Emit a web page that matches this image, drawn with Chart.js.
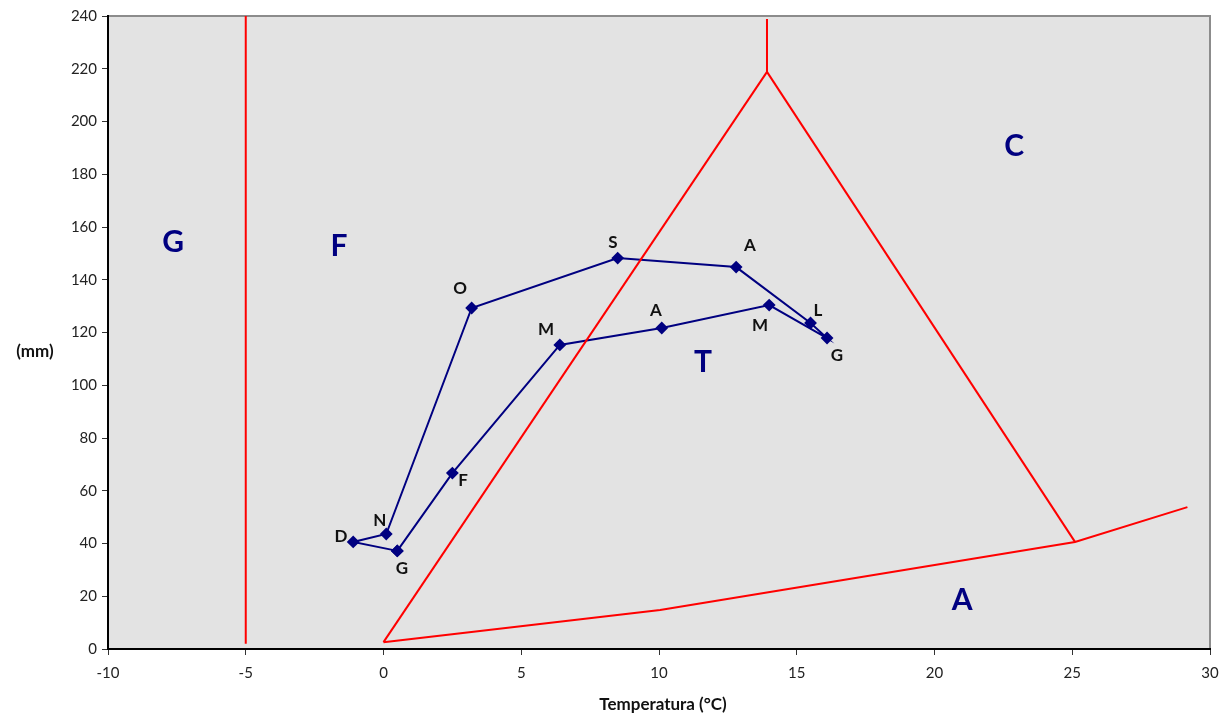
<!DOCTYPE html>
<html>
<head>
<meta charset="utf-8">
<script src="https://cdn.jsdelivr.net/npm/chart.js@4"></script>
<style>
  html, body { margin: 0; padding: 0; background: #fff; }
  #wrap { width: 1224px; height: 717px; }
</style>
</head>
<body>
<div id="wrap"><canvas id="climograph" width="1224" height="717"></canvas></div>
<script>
// Monthly climate values (temperature °C, precipitation mm), Jan..Dec
const months = ['G', 'F', 'M', 'A', 'M', 'G', 'L', 'A', 'S', 'O', 'N', 'D'];
const temps = [0.5, 2.5, 6.4, 10.1, 14.0, 16.1, 15.5, 12.8, 8.5, 3.2, 0.1, -1.1];
const precip = [37.2, 66.7, 115.3, 121.7, 130.4, 117.9, 123.6, 144.8, 148.2, 129.3, 43.6, 40.6];

// Label positions for the month letters (in data units)
const monthLabelX = [0.67, 2.89, 5.9, 9.89, 13.67, 16.46, 15.77, 13.3, 8.33, 2.78, -0.13, -1.54];
const monthLabelY = [30.7, 63.7, 121.3, 128.5, 122.5, 111.1, 128.2, 152.8, 154.3, 136.5, 48.9, 42.8];

// Red boundary lines of the climate zones
const lineGlacial = [{x: -5, y: 2}, {x: -5, y: 240}];
const lineTop = [{x: 13.92, y: 238.9}, {x: 13.92, y: 218.8}];
const lineLeft = [{x: 0, y: 2.6}, {x: 13.92, y: 218.8}];
const lineRight = [{x: 13.92, y: 218.8}, {x: 25.1, y: 40.6}];
const lineBottom = [{x: 0, y: 2.6}, {x: 10.04, y: 14.8}, {x: 25.1, y: 40.6}, {x: 29.18, y: 53.8}];

// Zone letters
const zoneNames = ['G', 'F', 'C', 'T', 'A'];
const zoneX = [-7.64, -1.62, 22.89, 11.6, 21.0];
const zoneY = [154.3, 152.8, 190.7, 108.8, 18.6];

const FONT = 'Lato, "DejaVu Sans", sans-serif';

// Close the loop back to January
const loop = temps.map((t, i) => ({x: t, y: precip[i]}));
loop.push({x: temps[0], y: precip[0]});

function redLine(data) {
    return {
        data: data,
        showLine: true,
        borderColor: '#ff0000',
        borderWidth: 2,
        pointRadius: 0,
        fill: false,
        tension: 0
    };
}

const plotBackground = {
    id: 'plotBackground',
    beforeDraw(chart) {
        const {ctx, chartArea: a} = chart;
        ctx.save();
        ctx.fillStyle = '#e3e3e3';
        ctx.fillRect(a.left, a.top, a.right - a.left, a.bottom - a.top);
        // grey frame on top and right
        ctx.strokeStyle = '#8c8c8c';
        ctx.lineWidth = 2;
        ctx.beginPath();
        ctx.moveTo(a.left, a.top);
        ctx.lineTo(a.right, a.top);
        ctx.lineTo(a.right, a.bottom);
        ctx.stroke();
        ctx.restore();
    }
};

const textLabels = {
    id: 'textLabels',
    afterDatasetsDraw(chart) {
        const {ctx, scales: {x, y}} = chart;
        ctx.save();
        ctx.textAlign = 'center';
        ctx.textBaseline = 'middle';

        // zone letters
        ctx.fillStyle = '#000080';
        ctx.font = 'bold 30px ' + FONT;
        zoneNames.forEach((n, i) => {
            ctx.fillText(n, x.getPixelForValue(zoneX[i]), y.getPixelForValue(zoneY[i]));
        });

        // month letters
        ctx.fillStyle = '#111';
        ctx.font = 'bold 17px ' + FONT;
        months.forEach((m, i) => {
            ctx.fillText(m, x.getPixelForValue(monthLabelX[i]), y.getPixelForValue(monthLabelY[i]));
        });

        // axis titles
        ctx.font = 'bold 17px ' + FONT;
        ctx.fillText('(mm)', 35, 352);
        ctx.fillText('Temperatura (°C)', 663, 705);
        ctx.restore();
    }
};

const ctx = document.getElementById('climograph').getContext('2d');

new Chart(ctx, {
    type: 'scatter',
    data: {
        datasets: [
            redLine(lineGlacial),
            redLine(lineTop),
            redLine(lineLeft),
            redLine(lineRight),
            redLine(lineBottom),
            {
                data: loop,
                showLine: true,
                borderColor: '#000080',
                borderWidth: 2,
                backgroundColor: '#000080',
                pointBackgroundColor: '#000080',
                pointBorderColor: '#000080',
                pointStyle: 'rectRot',
                pointRadius: 5,
                tension: 0
            }
        ]
    },
    options: {
        responsive: false,
        animation: false,
        layout: {
            padding: {left: 0, right: 14, top: 16, bottom: 0}
        },
        plugins: {
            legend: {display: false},
            tooltip: {enabled: false}
        },
        scales: {
            x: {
                type: 'linear',
                min: -10,
                max: 30,
                ticks: {
                    stepSize: 5,
                    color: '#222',
                    font: {family: FONT, size: 15},
                    padding: 9
                },
                grid: {
                    drawOnChartArea: false,
                    drawTicks: true,
                    tickLength: 6,
                    tickColor: '#333'
                },
                border: {display: true, color: '#000', width: 2},
                afterFit(scale) {
                    scale.height = 68;
                    scale.paddingLeft = 0;
                    scale.paddingRight = 0;
                }
            },
            y: {
                type: 'linear',
                min: 0,
                max: 240,
                ticks: {
                    stepSize: 20,
                    color: '#222',
                    font: {family: FONT, size: 15},
                    padding: 5
                },
                grid: {
                    drawOnChartArea: false,
                    drawTicks: true,
                    tickLength: 6,
                    tickColor: '#333'
                },
                border: {display: true, color: '#000', width: 2},
                afterFit(scale) {
                    scale.width = 108;
                    scale.paddingTop = 0;
                    scale.paddingBottom = 0;
                }
            }
        }
    },
    plugins: [plotBackground, textLabels]
});
</script>
</body>
</html>
